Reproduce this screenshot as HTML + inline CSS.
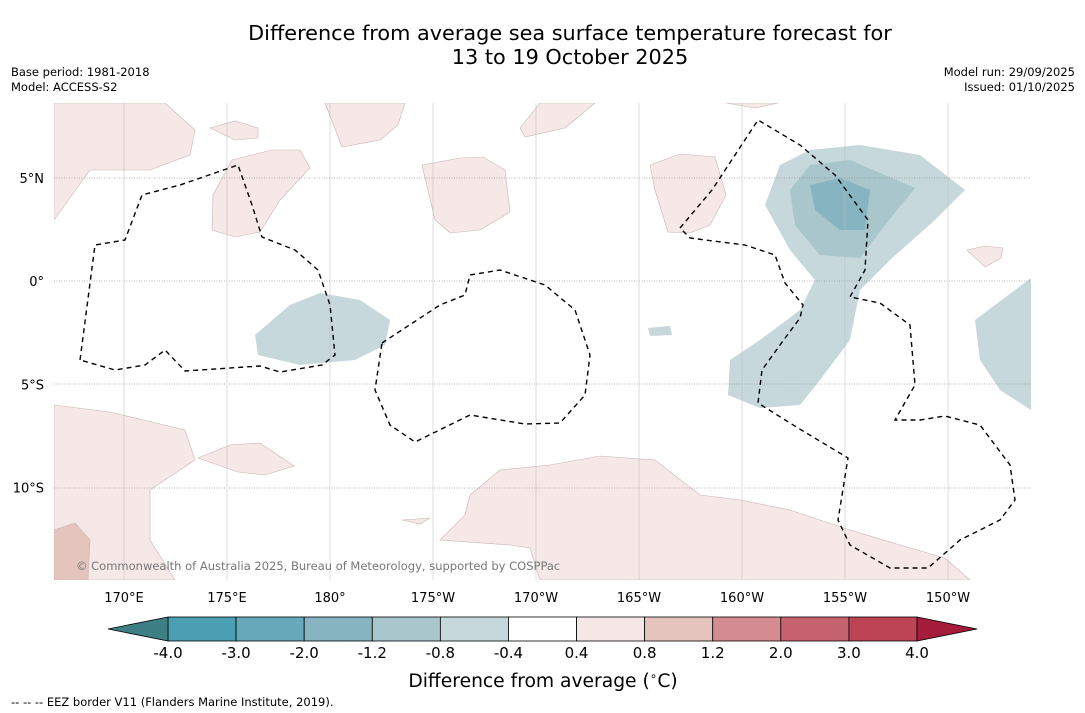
<!DOCTYPE html>
<html><head><meta charset="utf-8">
<style>
body{margin:0;background:#fff;font-family:"DejaVu Sans","Liberation Sans",sans-serif;}
#wrap{position:relative;width:1085px;height:713px;overflow:hidden;background:#fff}
.t{position:absolute;white-space:nowrap;color:#000}
</style></head><body>
<div id="wrap">
<div class="t" style="left:0;width:1140px;top:21px;text-align:center;font-size:20.8px;line-height:24px">Difference from average sea surface temperature forecast for<br>13 to 19 October 2025</div>
<div class="t" style="left:11px;top:65px;font-size:11.5px;line-height:15px">Base period: 1981-2018<br>Model: ACCESS-S2</div>
<div class="t" style="right:10px;top:65px;font-size:11.5px;line-height:15px;text-align:right">Model run: 29/09/2025<br>Issued: 01/10/2025</div>
<svg id="map" width="1085" height="713" style="position:absolute;left:0;top:0">
<defs><clipPath id="clip"><rect x="54" y="103" width="977" height="477"/></clipPath></defs>
<g clip-path="url(#clip)">
<g fill="#c6d8db">
<path d="M255,335 L290,305 L320,293 L360,300 L390,320 L385,345 L355,360 L300,365 L258,355 Z"/>
<path d="M765,205 L780,165 L810,150 L860,145 L920,155 L965,190 L935,220 L890,260 L860,290 L850,340 L820,380 L800,405 L760,408 L728,395 L730,360 L760,340 L800,310 L815,280 L790,250 Z"/>
<path d="M975,320 L1031,278 L1031,410 L1000,390 L980,360 Z"/>
<path d="M648,328 L670,326 L672,335 L650,336 Z"/>
</g>
<path d="M790,190 L810,165 L850,160 L915,188 L885,225 L860,258 L820,255 L795,225 Z" fill="#a8c6cb"/>
<path d="M810,185 L840,178 L870,190 L865,230 L840,230 L815,210 Z" fill="#86b4c0"/>
<g fill="#f5e8e6" stroke="#c9b5b2" stroke-width="0.6">
<path d="M54,103 L165,103 L195,130 L190,155 L150,170 L90,170 L54,220 Z"/>
<path d="M210,128 L235,121 L258,128 L258,138 L235,140 Z"/>
<path d="M232,160 L272,150 L300,150 L310,168 L280,200 L260,232 L235,237 L212,230 L213,195 Z"/>
<path d="M325,103 L405,103 L398,125 L380,140 L342,147 Z"/>
<path d="M422,165 L460,158 L483,157 L505,170 L510,212 L480,230 L450,233 L435,220 Z"/>
<path d="M520,128 L540,103 L595,103 L565,128 L525,137 Z"/>
<path d="M726,103 L778,103 L755,108 Z"/>
<path d="M650,165 L680,154 L715,157 L726,195 L710,225 L690,233 L668,232 L655,190 Z"/>
<path d="M967,250 L985,246 L1003,248 L1001,258 L985,267 Z"/>
<path d="M54,405 L110,412 L185,430 L195,460 L150,490 L150,540 L175,580 L54,580 Z"/>
<path d="M198,458 L230,445 L260,443 L294,466 L265,475 L238,472 Z"/>
<path d="M402,520 L430,518 L420,524 Z"/>
<path d="M440,540 L465,515 L470,495 L500,470 L550,465 L600,456 L655,460 L700,495 L740,500 L790,510 L850,530 L900,545 L945,558 L970,580 L540,580 L530,548 L510,545 Z"/>
</g>
<path d="M54,530 L75,523 L90,540 L88,580 L54,580 Z" fill="#e6c4be" stroke="#c9b5b2" stroke-width="0.6"/>
<g stroke="#777" stroke-width="0.6" stroke-dasharray="1,1.5">
<line x1="54" x2="1031" y1="178" y2="178"/><line x1="54" x2="1031" y1="281" y2="281"/><line x1="54" x2="1031" y1="384" y2="384"/><line x1="54" x2="1031" y1="488" y2="488"/>
</g>
<g stroke="#bbb" stroke-width="0.5">
<line x1="124" x2="124" y1="103" y2="580"/><line x1="227" x2="227" y1="103" y2="580"/><line x1="330" x2="330" y1="103" y2="580"/><line x1="433" x2="433" y1="103" y2="580"/><line x1="536" x2="536" y1="103" y2="580"/><line x1="639" x2="639" y1="103" y2="580"/><line x1="742" x2="742" y1="103" y2="580"/><line x1="845" x2="845" y1="103" y2="580"/><line x1="948" x2="948" y1="103" y2="580"/>
</g>
<g fill="none" stroke="#000" stroke-width="1.4" stroke-dasharray="5,4">
<path d="M80,360 L95,245 L125,240 L142,195 L180,185 L238,165 L252,205 L262,237 L295,250 L318,270 L330,305 L335,355 L322,365 L280,372 L260,366 L185,371 L165,350 L145,365 L115,370 L80,360"/>
<path d="M382,343 L440,305 L465,295 L470,275 L500,270 L545,285 L575,310 L590,355 L585,395 L560,423 L525,424 L470,415 L415,442 L390,425 L375,390 L382,343"/>
<path d="M680,228 L712,190 L758,120 L800,145 L835,175 L868,220 L865,270 L850,297 L880,303 L910,325 L915,385 L895,420 L920,420 L945,416 L980,425 L1010,465 L1015,500 L1000,520 L960,540 L928,568 L890,568 L850,545 L838,520 L848,458 L798,428 L758,403 L762,370 L780,345 L800,318 L803,305 L785,283 L775,255 L745,245 L690,238 L680,228"/>
</g>
</g>
<text x="76" y="570" font-size="11.5" fill="#777" font-family="DejaVu Sans, sans-serif">© Commonwealth of Australia 2025, Bureau of Meteorology, supported by COSPPac</text>
<g id="ylab" font-size="13" font-family="DejaVu Sans, sans-serif" text-anchor="end"></g>
<g id="xlab" font-size="13" font-family="DejaVu Sans, sans-serif" text-anchor="middle"></g>
<g id="cbar"></g>
<text x="543" y="687" font-size="18.7" text-anchor="middle" font-family="DejaVu Sans, sans-serif">Difference from average (<tspan baseline-shift="super" font-size="12">∘</tspan>C)</text>
<text x="11" y="706" font-size="11.5" font-family="DejaVu Sans, sans-serif">--  --  -- EEZ border V11 (Flanders Marine Institute, 2019).</text>
</svg>
</div>
<script>
const latLabels=["5°N","0°","5°S","10°S"];
const latValues=[5,0,-5,-10];
const lonLabels=["170°E","175°E","180°","175°W","170°W","165°W","160°W","155°W","150°W"];
const lonValues=[170,175,180,185,190,195,200,205,210];
const levelLabels=["-4.0","-3.0","-2.0","-1.2","-0.8","-0.4","0.4","0.8","1.2","2.0","3.0","4.0"];
const binColors=["#4aa0b2","#66a9b8","#86b4c0","#a8c6cb","#c6d8db","#ffffff","#f5e8e6","#e6c4be","#d48b92","#c7636e","#bd4454"];
const extColors=["#3e7f86","#a51c3a"];
const NS="http://www.w3.org/2000/svg";
const xLon=l=>124+(l-170)*20.6, yLat=l=>281-l*20.65;
const yl=document.getElementById('ylab');
latValues.forEach((v,i)=>{const t=document.createElementNS(NS,'text');


t.setAttribute('x',44);t.setAttribute('y',yLat(v)+5);t.textContent=latLabels[i];yl.appendChild(t);});
const xl=document.getElementById('xlab');
lonValues.forEach((v,i)=>{const t=document.createElementNS(NS,'text');


t.setAttribute('x',xLon(v));t.setAttribute('y',602);t.textContent=lonLabels[i];xl.appendChild(t);});
const cb=document.getElementById('cbar');
const x0=168,x1=917,y0=617,h=24,w=(x1-x0)/binColors.length;
binColors.forEach((c,i)=>{const r=document.createElementNS(NS,'rect');


r.setAttribute('x',x0+i*w);r.setAttribute('y',y0);r.setAttribute('width',w);r.setAttribute('height',h);r.setAttribute('fill',c);r.setAttribute('stroke','#000');r.setAttribute('stroke-width','0.8');cb.appendChild(r);});
[[x0,x0-60,extColors[0]],[x1,x1+60,extColors[1]]].forEach(([a,b,c])=>{const p=document.createElementNS(NS,'path');


p.setAttribute('d',`M${a},${y0} L${b},${y0+h/2} L${a},${y0+h} Z`);p.setAttribute('fill',c);p.setAttribute('stroke','#000');p.setAttribute('stroke-width','0.8');cb.appendChild(p);});
levelLabels.forEach((s,i)=>{const t=document.createElementNS(NS,'text');


t.setAttribute('x',x0+i*w);t.setAttribute('y',658);t.setAttribute('text-anchor','middle');t.setAttribute('font-size','15');t.setAttribute('font-family','DejaVu Sans, sans-serif');t.textContent=s;cb.appendChild(t);});
</script>
</body></html>
